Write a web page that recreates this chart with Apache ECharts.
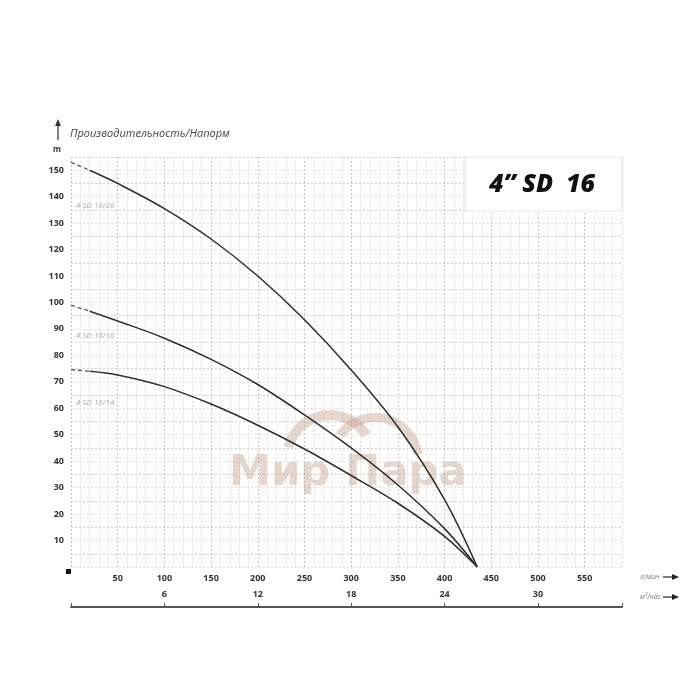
<!DOCTYPE html>
<html>
<head>
<meta charset="utf-8">
<script src="https://cdn.jsdelivr.net/npm/echarts@6/dist/echarts.min.js"></script>
<style>html,body{margin:0;padding:0;background:#fff;}#c{width:700px;height:700px;}</style>
</head>
<body>
<div id="c"></div>
<script>
const flowLmin = [0, 20, 50, 100, 150, 200, 250, 300, 350, 400, 435];
const head28 = [153, 150, 145, 135.5, 124, 110, 93.5, 74.5, 53, 25.5, 0];
const head18 = [99, 96.7, 93, 86.5, 78.5, 69, 57.5, 45, 31, 14.5, 0];
const head14 = [74.6, 74, 72.6, 68.2, 61.6, 53.6, 44.6, 34.6, 24.1, 11.6, 0];
const dashEnd = 20;
const curveNames = ['4 SD 16/28', '4 SD 16/18', '4 SD 16/14'];
const xLabelsLmin = [50, 100, 150, 200, 250, 300, 350, 400, 450, 500, 550];
const xLabelsM3h = [6, 12, 18, 24, 30];
const yLabels = [10, 20, 30, 40, 50, 60, 70, 80, 90, 100, 110, 120, 130, 140, 150];

function part(heads, dashed) {
  const out = [];
  flowLmin.forEach((q, i) => {
    if (dashed ? q <= dashEnd : q >= dashEnd) out.push([q, heads[i]]);
  });
  return out;
}

const chart = echarts.init(document.getElementById('c'), null, {renderer: 'canvas'});
const lineCol = '#2e2e2e';
const series = [];
[head28, head18, head14].forEach((h, k) => {
  series.push({
    name: curveNames[k], type: 'line', data: part(h, false), smooth: 0.35,
    symbol: 'none', lineStyle: {color: lineCol, width: 1.5}, z: 5
  });
  series.push({
    name: curveNames[k] + ' dash', type: 'line', data: part(h, true), smooth: false,
    symbol: 'none', lineStyle: {color: '#555', width: 1.3, type: [4, 3]}, z: 5
  });
});

const labelFont = {fontFamily: 'Open Sans', fontWeight: 'bold', fontSize: 9, color: '#333'};
const wm = 'rgba(196,160,138,0.42)';

chart.setOption({
  backgroundColor: '#fff',
  animation: false,
  grid: {left: 71, right: 78, top: 157, bottom: 133, containLabel: false},
  xAxis: [{
    type: 'value', min: 0, max: 590, interval: 10,
    axisLine: {show: false}, axisTick: {show: false},
    axisLabel: Object.assign({margin: 7, formatter: v => xLabelsLmin.indexOf(v) >= 0 ? String(v) : ''}, labelFont),
    splitLine: {show: true, lineStyle: {type: [2, 2], width: 1, color: ['#c4c4c4', '#dedede', '#dedede', '#dedede', '#dedede']}}
  }, {
    type: 'value', min: 0, max: 35.4, interval: 6, position: 'bottom', offset: 40,
    axisLine: {show: true, lineStyle: {color: '#555', width: 2}},
    axisTick: {show: true, inside: true, length: 4, lineStyle: {color: '#555', width: 1}},
    axisLabel: Object.assign({inside: true, margin: 8, formatter: v => xLabelsM3h.indexOf(v) >= 0 ? String(v) : ''}, labelFont),
    splitLine: {show: false}
  }],
  yAxis: {
    type: 'value', min: 0, max: 155, interval: 5,
    axisLine: {show: false}, axisTick: {show: false},
    axisLabel: Object.assign({margin: 7, formatter: v => yLabels.indexOf(v) >= 0 ? String(v) : ''}, labelFont),
    splitLine: {show: true, lineStyle: {type: [2, 2], width: 1, color: ['#dedede', '#cfcfcf']}}
  },
  series: series,
  graphic: [
    // watermark
    {type: 'sector', shape: {cx: 330, cy: 458, r: 48, r0: 38, startAngle: Math.PI * 1.08, endAngle: Math.PI * 1.82}, style: {fill: wm}, z: 1},
    {type: 'sector', shape: {cx: 375, cy: 461, r: 48, r0: 39, startAngle: Math.PI * 1.2, endAngle: Math.PI * 1.95}, style: {fill: wm}, z: 1},
    {type: 'text', x: 348, y: 474, style: {text: 'Мир Пара', font: 'bold 42px "DejaVu Sans"', fill: wm, align: 'center', verticalAlign: 'middle'}, z: 1},
    // axis title
    {type: 'line', shape: {x1: 58, y1: 140, x2: 58, y2: 124}, style: {stroke: '#333', lineWidth: 1.2}, z: 10},
    {type: 'polygon', shape: {points: [[58, 119], [55, 126], [61, 126]]}, style: {fill: '#333'}, z: 10},
    {type: 'text', x: 70, y: 134, style: {text: 'Производительность/Напорм', fontFamily: 'Open Sans', fontStyle: 'italic', fontSize: 11, fill: '#444', verticalAlign: 'middle'}, z: 10},
    {type: 'text', x: 57, y: 150, style: {text: 'm', fontFamily: 'Open Sans', fontWeight: 'bold', fontSize: 8, fill: '#333', align: 'center', verticalAlign: 'middle'}, z: 10},
    // corner marker
    {type: 'rect', shape: {x: 66, y: 569, width: 5, height: 5}, style: {fill: '#111'}, z: 10},
    // curve labels
    {type: 'text', x: 76, y: 206, style: {text: curveNames[0], fontFamily: 'Open Sans', fontStyle: 'italic', fontSize: 8, fill: '#aaa', verticalAlign: 'middle'}, z: 10},
    {type: 'text', x: 76, y: 336, style: {text: curveNames[1], fontFamily: 'Open Sans', fontStyle: 'italic', fontSize: 8, fill: '#aaa', verticalAlign: 'middle'}, z: 10},
    {type: 'text', x: 76, y: 403, style: {text: curveNames[2], fontFamily: 'Open Sans', fontStyle: 'italic', fontSize: 8, fill: '#aaa', verticalAlign: 'middle'}, z: 10},
    // title box
    {type: 'rect', shape: {x: 465, y: 157, width: 157, height: 54}, style: {fill: '#fff', stroke: '#e4e4e4', lineWidth: 1}, z: 8},
    {type: 'text', x: 542, y: 185, style: {text: '4” SD  16', font: 'italic 800 25px "Open Sans"', fill: '#111', align: 'center', verticalAlign: 'middle'}, z: 9},
    // unit labels with arrows
    {type: 'text', x: 640, y: 577, style: {text: 'л/мин', fontFamily: 'Open Sans', fontStyle: 'italic', fontSize: 7, fill: '#777', verticalAlign: 'middle'}, z: 10},
    {type: 'line', shape: {x1: 663, y1: 577, x2: 674, y2: 577}, style: {stroke: '#222', lineWidth: 1.2}, z: 10},
    {type: 'polygon', shape: {points: [[679, 577], [672, 574], [672, 580]]}, style: {fill: '#222'}, z: 10},
    {type: 'text', x: 640, y: 597, style: {text: 'м³/час', fontFamily: 'Open Sans', fontStyle: 'italic', fontSize: 7, fill: '#777', verticalAlign: 'middle'}, z: 10},
    {type: 'line', shape: {x1: 663, y1: 597, x2: 674, y2: 597}, style: {stroke: '#222', lineWidth: 1.2}, z: 10},
    {type: 'polygon', shape: {points: [[679, 597], [672, 594], [672, 600]]}, style: {fill: '#222'}, z: 10}
  ]
});
</script>
</body>
</html>
